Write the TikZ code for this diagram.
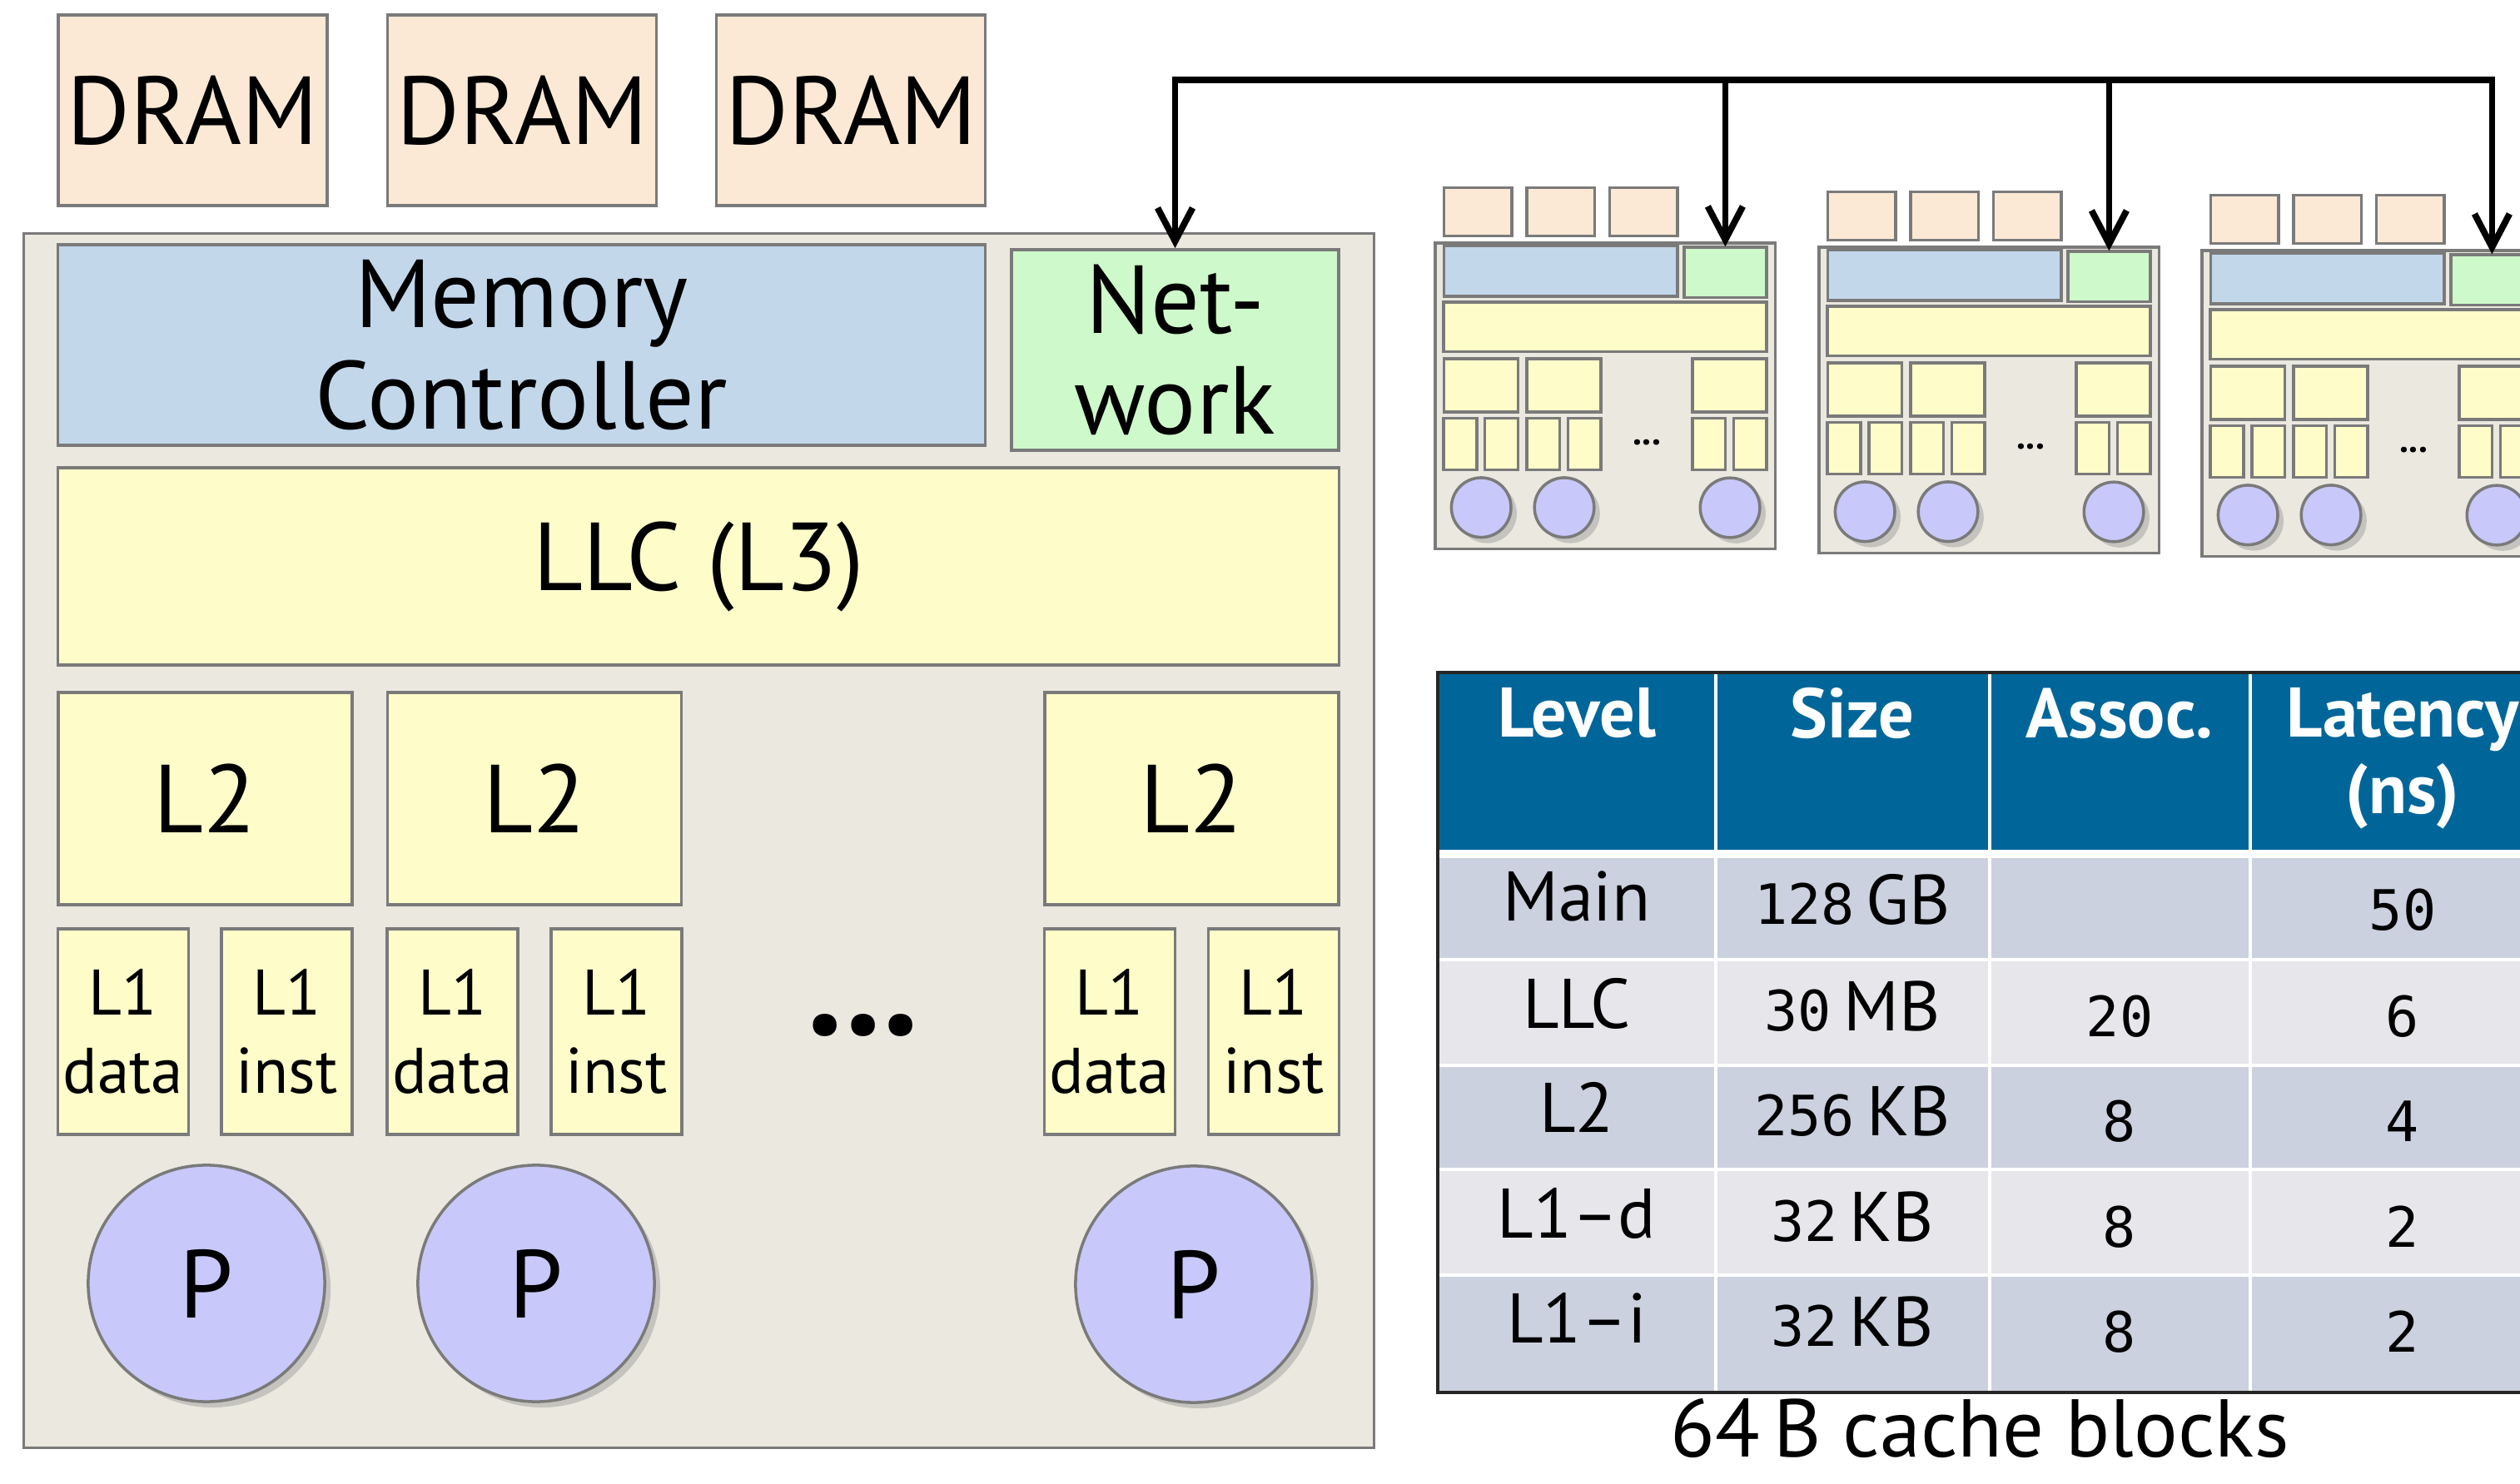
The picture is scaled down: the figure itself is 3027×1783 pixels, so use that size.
\documentclass[tikz,border=0pt]{standalone}
\usepackage{fontspec}
\setmainfont{PT Sans}
\newfontfamily\numfont{DejaVu Sans Mono}
\usetikzlibrary{positioning,arrows.meta,shadows}

\definecolor{chipbg}{HTML}{EAE8DF}
\definecolor{edgegray}{HTML}{7A7A7A}
\definecolor{dramfill}{HTML}{FBE9D6}
\definecolor{mcfill}{HTML}{C3D7EB}
\definecolor{netfill}{HTML}{CEF9CA}
\definecolor{cachefill}{HTML}{FEFDC9}
\definecolor{corefill}{HTML}{C8C8FA}
\definecolor{headfill}{HTML}{006699}
\definecolor{rowdark}{HTML}{CBD1DE}
\definecolor{rowlight}{HTML}{E6E6EB}

\newcommand{\lbl}[1]{#1}
\newcommand{\bigtxt}{\fontsize{33}{34.5}\selectfont}
\newcommand{\smalltxt}{\fontsize{22}{26.5}\selectfont}
\newcommand{\tabtxt}{\fontsize{24}{26}\selectfont}
\newcommand{\numtxt}{\fontsize{19}{22}\selectfont\numfont}

% one multicore chip: name prefix, top left corner, scale
\newcommand{\cmpchip}[4]{%
\begin{scope}[shift={(#2,#3)}, scale=#4, every node/.append style={transform shape}]
%Die and memories
\node[chipbox] (#1chip) at (810.5,729) {};
\node[drambox] (#1drama) at (202.5,-148.5) {\lbl{DRAM}};
\node[drambox] (#1dramb) at (598,-148.5) {\lbl{DRAM}};
\node[drambox] (#1dramc) at (993,-148.5) {\lbl{DRAM}};
\node[mcbox] (#1mc) at (597.5,133.5) {\lbl{Memory\\Controller}};
\node[netbox] (#1net) at (1382.5,139.5) {\lbl{Net-\\work}};
\node[llcbox] (#1llc) at (810,399.5) {\lbl{LLC (L3)}};
%Private caches
\node[ltwobox] (#1ltwoa) at (217.5,678.5) {\lbl{L2}};
\node[ltwobox] (#1ltwob) at (613,678.5) {\lbl{L2}};
\node[ltwobox] (#1ltwoc) at (1402.5,678.5) {\lbl{L2}};
\node[lonebox] (#1ldataa) at (119,958.5) {\lbl{L1\\data}};
\node[lonebox] (#1linsta) at (315.5,958.5) {\lbl{L1\\inst}};
\node[lonebox] (#1ldatab) at (514.5,958.5) {\lbl{L1\\data}};
\node[lonebox] (#1linstb) at (711.5,958.5) {\lbl{L1\\inst}};
\node[lonebox] (#1ldatac) at (1304,958.5) {\lbl{L1\\data}};
\node[lonebox] (#1linstc) at (1501,958.5) {\lbl{L1\\inst}};
\node[dotsnode] (#1dots) at (1008,951) {...};
%Cores
\node[corenode] (#1pa) at (219,1261) {\lbl{P}};
\node[corenode] (#1pb) at (615,1261) {\lbl{P}};
\node[corenode] (#1pc) at (1405,1262) {\lbl{P}};
\end{scope}}

\begin{document}
\begin{tikzpicture}[x=0.01cm, y=-0.01cm,
chipbox/.style={rectangle, draw=edgegray, fill=chipbg, line width=1pt, minimum width=16.21cm, minimum height=14.58cm},
drambox/.style={rectangle, draw=edgegray, fill=dramfill, line width=1pt, inner sep=0pt, minimum width=3.23cm, minimum height=2.29cm, font=\bigtxt},
mcbox/.style={rectangle, draw=edgegray, fill=mcfill, line width=1pt, align=center, minimum width=11.13cm, minimum height=2.41cm, font=\bigtxt},
netbox/.style={rectangle, draw=edgegray, fill=netfill, line width=1pt, inner sep=0pt, align=center, minimum width=3.93cm, minimum height=2.41cm, font=\bigtxt},
llcbox/.style={rectangle, draw=edgegray, fill=cachefill, line width=1pt, minimum width=15.38cm, minimum height=2.37cm, font=\bigtxt},
ltwobox/.style={rectangle, draw=edgegray, fill=cachefill, line width=1pt, minimum width=3.53cm, minimum height=2.55cm, font=\bigtxt},
lonebox/.style={rectangle, draw=edgegray, fill=cachefill, line width=1pt, inner sep=0pt, align=center, minimum width=1.57cm, minimum height=2.47cm, font=\smalltxt},
corenode/.style={circle, draw=edgegray, fill=corefill, line width=1pt, minimum size=2.84cm, font=\bigtxt, drop shadow={opacity=0.35, shadow xshift=0.07cm, shadow yshift=-0.07cm}},
dotsnode/.style={inner sep=0pt, font=\fontsize{50}{50}\selectfont\bfseries},
bus/.style={line width=2.2pt, line cap=rect},
cellrule/.style={white, line width=1pt},
tableframe/.style={black!85, line width=1.3pt},
headtxt/.style={anchor=north, inner sep=0pt, align=center, text=white, font=\tabtxt\bfseries},
celltxt/.style={anchor=base, inner sep=0pt, font=\tabtxt},
>={Straight Barb[length=4mm, width=4.2mm]},
]
\useasboundingbox (0,0) rectangle (3027,1783);
\clip (0,0) rectangle (3027,1783);

%Chips
\cmpchip{big}{29}{281}{1}
\foreach \nm/\cx/\cy in {m1/1724/292, m2/2185/297, m3/2645/301}{
  \renewcommand{\lbl}[1]{}
  \cmpchip{\nm}{\cx}{\cy}{0.252}
}

%Network lines
\coordinate (busy) at (0,96);
\coordinate (busL) at (bignet.north |- busy);
\coordinate (busR) at (m3net.north |- busy);
\draw[bus] (busL) -- (busR);
\draw[bus,->] (busL) -- (bignet.north);
\draw[bus,->] (m1net.north |- busy) -- (m1net.north);
\draw[bus,->] (m2net.north |- busy) -- (m2net.north);
\draw[bus,->] (busR) -- (m3net.north);

%Table
\fill[headfill] (1727,808) rectangle (3069,1021);
\fill[rowdark] (1727,1031) rectangle (3069,1153);
\fill[rowlight] (1727,1153) rectangle (3069,1280);
\fill[rowdark] (1727,1280) rectangle (3069,1405);
\fill[rowlight] (1727,1405) rectangle (3069,1532);
\fill[rowdark] (1727,1532) rectangle (3069,1673);
\foreach \yy in {1153,1280,1405,1532} \draw[cellrule] (1727,\yy) -- (3069,\yy);
\foreach \xx in {2061,2390,2703} \draw[cellrule] (\xx,808) -- (\xx,1673);
\draw[tableframe] (1727,808) rectangle (3069,1673);

\node[headtxt] (hlevel) at (1894,826) {Level};
\node[headtxt] (hsize) at (2225,826) {Size};
\node[headtxt] (hassoc) at (2546,826) {Assoc.};
\node[headtxt] (hlat) at (2886,826) {Latency\\(ns)};

\foreach \lv/\sz/\un/\as/\lt/\yb [count=\r] in {Main/128/GB//50/1107, LLC/30/MB/20/6/1235, L2/256/KB/8/4/1360, L1--d/32/KB/8/2/1487, L1--i/32/KB/8/2/1613}{
  \node[celltxt] (lvl\r) at (1894,\yb) {\lv};
  \node[celltxt] (size\r) at (2225,\yb+4) {{\numtxt\sz}\,\un};
  \node[celltxt, font=\numtxt] (assoc\r) at (2546,\yb+11) {\as};
  \node[celltxt, font=\numtxt] (lat\r) at (2886,\yb+11) {\lt};
}

\node[celltxt, font=\fontsize{28}{30}\selectfont] (blocks) at (2378,1750) {64\,B cache blocks};

\end{tikzpicture}
\end{document}
